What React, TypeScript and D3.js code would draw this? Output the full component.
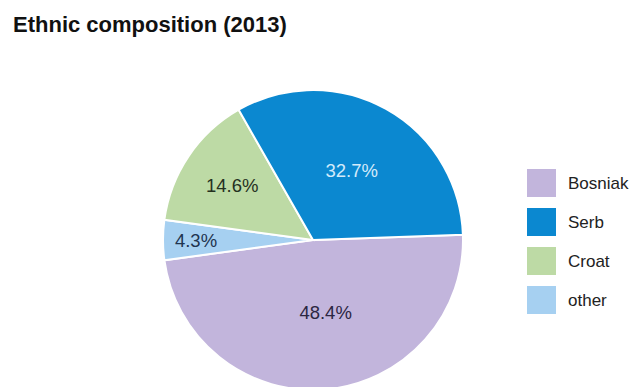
import React from "react";
import * as d3 from "d3";

const categories = ["Bosniak", "Serb", "Croat", "other"];
const values = [48.4, 32.7, 14.6, 4.3];
const labels = ["48.4%", "32.7%", "14.6%", "4.3%"];
// drawing order clockwise from ~3 o'clock
const drawOrder = ["Bosniak", "other", "Croat", "Serb"];

const colors: Record<string, string> = {
  Bosniak: "#c2b5dc",
  Serb: "#0b88d0",
  Croat: "#bddaa5",
  other: "#a6d0f1",
};
const labelColors: Record<string, string> = {
  Bosniak: "#2b2642",
  Serb: "#d3ebfb",
  Croat: "#24301f",
  other: "#1f3550",
};
const labelRadiusFrac: Record<string, number> = {
  Bosniak: 0.49,
  Serb: 0.53,
  Croat: 0.65,
  other: 0.78,
};
const labelAngleShift: Record<string, number> = {
  Bosniak: -5,
  Serb: 0,
  Croat: 0,
  other: 0,
};

const W = 638;
const H = 387;
const cx = 313;
const cy = 240;
const R = 150;
const FONT = "'Liberation Sans', Arial, Helvetica, sans-serif";

export default function App() {
  const data = drawOrder.map((c) => {
    const i = categories.indexOf(c);
    return { cat: c, value: values[i], label: labels[i] };
  });
  const start = (88 * Math.PI) / 180;
  const pie = d3
    .pie<{ cat: string; value: number; label: string }>()
    .sort(null)
    .value((d) => d.value)
    .startAngle(start)
    .endAngle(start + 2 * Math.PI);
  const arcs = pie(data);
  const arc = d3
    .arc<d3.PieArcDatum<{ cat: string; value: number; label: string }>>()
    .innerRadius(0)
    .outerRadius(R);

  return (
    <svg
      width={W}
      height={H}
      style={{ position: "absolute", left: 0, top: 0, background: "#fff" }}
    >
      <text
        x={13}
        y={32}
        fontFamily={FONT}
        fontWeight="bold"
        fontSize={22}
        fill="#111"
      >
        Ethnic composition (2013)
      </text>
      <g transform={`translate(${cx},${cy})`}>
        {arcs.map((a) => (
          <path
            key={a.data.cat}
            d={arc(a) || ""}
            fill={colors[a.data.cat]}
            stroke="#ffffff"
            strokeWidth={2}
          />
        ))}
        {arcs.map((a) => {
          const mid =
            (a.startAngle + a.endAngle) / 2 +
            (labelAngleShift[a.data.cat] * Math.PI) / 180;
          const r = R * labelRadiusFrac[a.data.cat];
          const x = Math.sin(mid) * r;
          const y = -Math.cos(mid) * r;
          return (
            <text
              key={a.data.cat + "l"}
              x={x}
              y={y}
              dy="0.36em"
              textAnchor="middle"
              fontFamily={FONT}
              fontSize={18.5}
              fill={labelColors[a.data.cat]}
            >
              {a.data.label}
            </text>
          );
        })}
      </g>
      <g>
        {categories.map((c, i) => (
          <g key={c} transform={`translate(527,${169 + i * 39})`}>
            <rect width={29} height={28} fill={colors[c]} />
            <text
              x={41}
              y={14}
              dy="0.36em"
              fontFamily={FONT}
              fontSize={17}
              fill="#222"
            >
              {c}
            </text>
          </g>
        ))}
      </g>
    </svg>
  );
}
